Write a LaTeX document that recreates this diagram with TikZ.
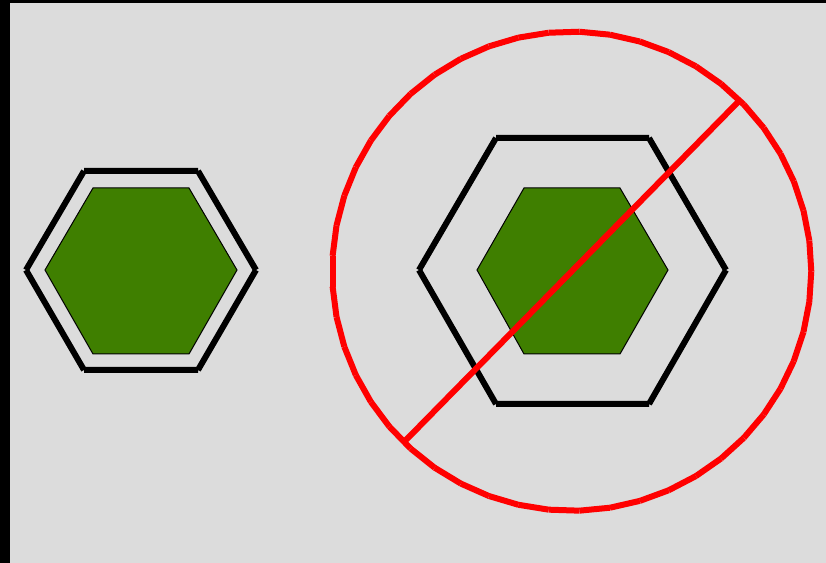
\documentclass[tikz,border=0pt]{standalone}
\usepackage{tikz}
\definecolor{panelgray}{HTML}{DCDCDC}
\definecolor{hexgreen}{HTML}{3F7F00}

\begin{document}
\begin{tikzpicture}[x=0.75pt, y=-0.75pt,
	nutline/.style={draw=black, line width=4.5pt, line cap=butt},
	nutcore/.style={draw=black, fill=hexgreen, line width=0.75pt},
	forbid/.style={draw=red, line width=4.5pt, line cap=butt}]
	\useasboundingbox (0,0) rectangle (826,563);
	\fill[black] (0,0) rectangle (826,563);
	\fill[panelgray] (10,3) rectangle (826,563);
	\begin{scope}
		\draw[nutcore] (45,270) -- (93,188) -- (189,188) -- (237,270) -- (189,354) -- (93,354) -- cycle;
		\draw[nutline] (26,270) -- (84,171) (84,171) -- (198,171) (198,171) -- (256,270)
			(256,270) -- (198,370) (198,370) -- (84,370) (84,370) -- (26,270);
	\end{scope}
	\begin{scope}
		\draw[nutcore] (477,270) -- (524,188) -- (620,188) -- (668,270) -- (620,354) -- (524,354) -- cycle;
		\draw[nutline] (419,270) -- (496,138) (496,138) -- (649,138) (649,138) -- (726,270)
			(726,270) -- (649,404) (649,404) -- (496,404) (496,404) -- (419,270);
		\foreach \k [evaluate=\k as \anga using (\k-1)*7.34694, evaluate=\k as \angb using \k*7.34694] in {1,...,49} {
			\draw[forbid] ({571.7+239.6*cos(\anga)},{271.2-239.6*sin(\anga)}) -- ({571.7+239.6*cos(\angb)},{271.2-239.6*sin(\angb)});
		}
		\draw[forbid] (405,441) -- (740,100);
	\end{scope}
\end{tikzpicture}
\end{document}
